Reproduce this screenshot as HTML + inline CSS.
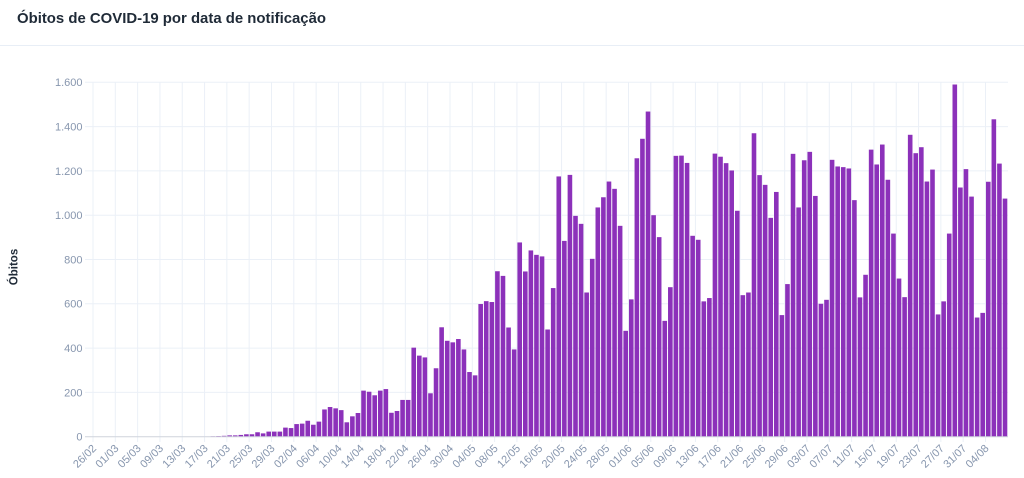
<!DOCTYPE html>
<html>
<head>
<meta charset="utf-8">
<style>
html,body{margin:0;padding:0;background:#fff;overflow:hidden;}
svg{display:block;font-family:"Liberation Sans",Arial,sans-serif;}
</style>
</head>
<body>
<svg width="1024" height="478" viewBox="0 0 1024 478" xmlns="http://www.w3.org/2000/svg">
<rect x="0" y="0" width="1024" height="478" fill="#fff"/>
<text x="17" y="23" font-size="15" font-weight="bold" fill="#1f2a37" textLength="309" lengthAdjust="spacingAndGlyphs">Óbitos de COVID-19 por data de notificação</text>
<line x1="0" y1="45.5" x2="1024" y2="45.5" stroke="#e8eef6" stroke-width="1"/>

<!-- horizontal gridlines -->
<g stroke="#ebf0f7" stroke-width="1">
<line x1="85" x2="1008" y1="392.4" y2="392.4"/>
<line x1="85" x2="1008" y1="348.1" y2="348.1"/>
<line x1="85" x2="1008" y1="303.8" y2="303.8"/>
<line x1="85" x2="1008" y1="259.5" y2="259.5"/>
<line x1="85" x2="1008" y1="215.2" y2="215.2"/>
<line x1="85" x2="1008" y1="170.9" y2="170.9"/>
<line x1="85" x2="1008" y1="126.6" y2="126.6"/>
<line x1="85" x2="1008" y1="82.3" y2="82.3"/>
</g>

<!-- vertical gridlines + ticks -->
<g stroke="#ebf0f7" stroke-width="1">
<line x1="93" x2="93" y1="82.3" y2="442"/>
<line x1="115.31" x2="115.31" y1="82.3" y2="442"/>
<line x1="137.62" x2="137.62" y1="82.3" y2="442"/>
<line x1="159.94" x2="159.94" y1="82.3" y2="442"/>
<line x1="182.25" x2="182.25" y1="82.3" y2="442"/>
<line x1="204.56" x2="204.56" y1="82.3" y2="442"/>
<line x1="226.87" x2="226.87" y1="82.3" y2="442"/>
<line x1="249.18" x2="249.18" y1="82.3" y2="442"/>
<line x1="271.5" x2="271.5" y1="82.3" y2="442"/>
<line x1="293.81" x2="293.81" y1="82.3" y2="442"/>
<line x1="316.12" x2="316.12" y1="82.3" y2="442"/>
<line x1="338.43" x2="338.43" y1="82.3" y2="442"/>
<line x1="360.74" x2="360.74" y1="82.3" y2="442"/>
<line x1="383.06" x2="383.06" y1="82.3" y2="442"/>
<line x1="405.37" x2="405.37" y1="82.3" y2="442"/>
<line x1="427.68" x2="427.68" y1="82.3" y2="442"/>
<line x1="449.99" x2="449.99" y1="82.3" y2="442"/>
<line x1="472.3" x2="472.3" y1="82.3" y2="442"/>
<line x1="494.62" x2="494.62" y1="82.3" y2="442"/>
<line x1="516.93" x2="516.93" y1="82.3" y2="442"/>
<line x1="539.24" x2="539.24" y1="82.3" y2="442"/>
<line x1="561.55" x2="561.55" y1="82.3" y2="442"/>
<line x1="583.86" x2="583.86" y1="82.3" y2="442"/>
<line x1="606.18" x2="606.18" y1="82.3" y2="442"/>
<line x1="628.49" x2="628.49" y1="82.3" y2="442"/>
<line x1="650.8" x2="650.8" y1="82.3" y2="442"/>
<line x1="673.11" x2="673.11" y1="82.3" y2="442"/>
<line x1="695.42" x2="695.42" y1="82.3" y2="442"/>
<line x1="717.74" x2="717.74" y1="82.3" y2="442"/>
<line x1="740.05" x2="740.05" y1="82.3" y2="442"/>
<line x1="762.36" x2="762.36" y1="82.3" y2="442"/>
<line x1="784.67" x2="784.67" y1="82.3" y2="442"/>
<line x1="806.98" x2="806.98" y1="82.3" y2="442"/>
<line x1="829.3" x2="829.3" y1="82.3" y2="442"/>
<line x1="851.61" x2="851.61" y1="82.3" y2="442"/>
<line x1="873.92" x2="873.92" y1="82.3" y2="442"/>
<line x1="896.23" x2="896.23" y1="82.3" y2="442"/>
<line x1="918.54" x2="918.54" y1="82.3" y2="442"/>
<line x1="940.86" x2="940.86" y1="82.3" y2="442"/>
<line x1="963.17" x2="963.17" y1="82.3" y2="442"/>
<line x1="985.48" x2="985.48" y1="82.3" y2="442"/>
</g>

<!-- bars -->
<g transform="translate(93,436.7) scale(5.578,-0.2215)" fill="#8c31ba">
<rect x="19.088" y="0" width="0.825" height="1"/>
<rect x="20.088" y="0" width="0.825" height="1"/>
<rect x="21.088" y="0" width="0.825" height="2"/>
<rect x="22.088" y="0" width="0.825" height="3"/>
<rect x="23.088" y="0" width="0.825" height="4"/>
<rect x="24.088" y="0" width="0.825" height="6"/>
<rect x="25.088" y="0" width="0.825" height="6"/>
<rect x="26.088" y="0" width="0.825" height="8"/>
<rect x="27.088" y="0" width="0.825" height="11"/>
<rect x="28.088" y="0" width="0.825" height="11"/>
<rect x="29.088" y="0" width="0.825" height="20"/>
<rect x="30.088" y="0" width="0.825" height="15"/>
<rect x="31.088" y="0" width="0.825" height="23"/>
<rect x="32.088" y="0" width="0.825" height="23"/>
<rect x="33.088" y="0" width="0.825" height="23"/>
<rect x="34.088" y="0" width="0.825" height="41"/>
<rect x="35.088" y="0" width="0.825" height="39"/>
<rect x="36.088" y="0" width="0.825" height="57"/>
<rect x="37.088" y="0" width="0.825" height="59"/>
<rect x="38.088" y="0" width="0.825" height="72"/>
<rect x="39.088" y="0" width="0.825" height="54"/>
<rect x="40.088" y="0" width="0.825" height="68"/>
<rect x="41.088" y="0" width="0.825" height="123"/>
<rect x="42.088" y="0" width="0.825" height="134"/>
<rect x="43.088" y="0" width="0.825" height="128"/>
<rect x="44.088" y="0" width="0.825" height="120"/>
<rect x="45.088" y="0" width="0.825" height="65"/>
<rect x="46.088" y="0" width="0.825" height="92"/>
<rect x="47.088" y="0" width="0.825" height="107"/>
<rect x="48.088" y="0" width="0.825" height="208"/>
<rect x="49.088" y="0" width="0.825" height="203"/>
<rect x="50.088" y="0" width="0.825" height="187"/>
<rect x="51.088" y="0" width="0.825" height="208"/>
<rect x="52.088" y="0" width="0.825" height="215"/>
<rect x="53.088" y="0" width="0.825" height="108"/>
<rect x="54.088" y="0" width="0.825" height="116"/>
<rect x="55.088" y="0" width="0.825" height="166"/>
<rect x="56.088" y="0" width="0.825" height="166"/>
<rect x="57.088" y="0" width="0.825" height="402"/>
<rect x="58.088" y="0" width="0.825" height="366"/>
<rect x="59.088" y="0" width="0.825" height="358"/>
<rect x="60.088" y="0" width="0.825" height="196"/>
<rect x="61.088" y="0" width="0.825" height="309"/>
<rect x="62.088" y="0" width="0.825" height="494"/>
<rect x="63.088" y="0" width="0.825" height="433"/>
<rect x="64.088" y="0" width="0.825" height="426"/>
<rect x="65.088" y="0" width="0.825" height="441"/>
<rect x="66.088" y="0" width="0.825" height="394"/>
<rect x="67.088" y="0" width="0.825" height="292"/>
<rect x="68.088" y="0" width="0.825" height="277"/>
<rect x="69.088" y="0" width="0.825" height="599"/>
<rect x="70.088" y="0" width="0.825" height="612"/>
<rect x="71.088" y="0" width="0.825" height="608"/>
<rect x="72.088" y="0" width="0.825" height="747"/>
<rect x="73.088" y="0" width="0.825" height="726"/>
<rect x="74.088" y="0" width="0.825" height="493"/>
<rect x="75.088" y="0" width="0.825" height="394"/>
<rect x="76.088" y="0" width="0.825" height="877"/>
<rect x="77.088" y="0" width="0.825" height="746"/>
<rect x="78.088" y="0" width="0.825" height="841"/>
<rect x="79.088" y="0" width="0.825" height="821"/>
<rect x="80.088" y="0" width="0.825" height="814"/>
<rect x="81.088" y="0" width="0.825" height="484"/>
<rect x="82.088" y="0" width="0.825" height="671"/>
<rect x="83.088" y="0" width="0.825" height="1175"/>
<rect x="84.088" y="0" width="0.825" height="884"/>
<rect x="85.088" y="0" width="0.825" height="1182"/>
<rect x="86.088" y="0" width="0.825" height="997"/>
<rect x="87.088" y="0" width="0.825" height="961"/>
<rect x="88.088" y="0" width="0.825" height="651"/>
<rect x="89.088" y="0" width="0.825" height="803"/>
<rect x="90.088" y="0" width="0.825" height="1035"/>
<rect x="91.088" y="0" width="0.825" height="1081"/>
<rect x="92.088" y="0" width="0.825" height="1152"/>
<rect x="93.088" y="0" width="0.825" height="1119"/>
<rect x="94.088" y="0" width="0.825" height="952"/>
<rect x="95.088" y="0" width="0.825" height="478"/>
<rect x="96.088" y="0" width="0.825" height="620"/>
<rect x="97.088" y="0" width="0.825" height="1257"/>
<rect x="98.088" y="0" width="0.825" height="1345"/>
<rect x="99.088" y="0" width="0.825" height="1468"/>
<rect x="100.088" y="0" width="0.825" height="1000"/>
<rect x="101.088" y="0" width="0.825" height="901"/>
<rect x="102.088" y="0" width="0.825" height="523"/>
<rect x="103.088" y="0" width="0.825" height="675"/>
<rect x="104.088" y="0" width="0.825" height="1268"/>
<rect x="105.088" y="0" width="0.825" height="1269"/>
<rect x="106.088" y="0" width="0.825" height="1236"/>
<rect x="107.088" y="0" width="0.825" height="907"/>
<rect x="108.088" y="0" width="0.825" height="889"/>
<rect x="109.088" y="0" width="0.825" height="611"/>
<rect x="110.088" y="0" width="0.825" height="626"/>
<rect x="111.088" y="0" width="0.825" height="1278"/>
<rect x="112.088" y="0" width="0.825" height="1264"/>
<rect x="113.088" y="0" width="0.825" height="1235"/>
<rect x="114.088" y="0" width="0.825" height="1202"/>
<rect x="115.088" y="0" width="0.825" height="1020"/>
<rect x="116.088" y="0" width="0.825" height="639"/>
<rect x="117.088" y="0" width="0.825" height="651"/>
<rect x="118.088" y="0" width="0.825" height="1370"/>
<rect x="119.088" y="0" width="0.825" height="1181"/>
<rect x="120.088" y="0" width="0.825" height="1137"/>
<rect x="121.088" y="0" width="0.825" height="988"/>
<rect x="122.088" y="0" width="0.825" height="1105"/>
<rect x="123.088" y="0" width="0.825" height="549"/>
<rect x="124.088" y="0" width="0.825" height="689"/>
<rect x="125.088" y="0" width="0.825" height="1277"/>
<rect x="126.088" y="0" width="0.825" height="1035"/>
<rect x="127.088" y="0" width="0.825" height="1248"/>
<rect x="128.088" y="0" width="0.825" height="1286"/>
<rect x="129.088" y="0" width="0.825" height="1087"/>
<rect x="130.088" y="0" width="0.825" height="600"/>
<rect x="131.088" y="0" width="0.825" height="618"/>
<rect x="132.088" y="0" width="0.825" height="1250"/>
<rect x="133.088" y="0" width="0.825" height="1220"/>
<rect x="134.088" y="0" width="0.825" height="1217"/>
<rect x="135.088" y="0" width="0.825" height="1211"/>
<rect x="136.088" y="0" width="0.825" height="1068"/>
<rect x="137.088" y="0" width="0.825" height="629"/>
<rect x="138.088" y="0" width="0.825" height="731"/>
<rect x="139.088" y="0" width="0.825" height="1296"/>
<rect x="140.088" y="0" width="0.825" height="1229"/>
<rect x="141.088" y="0" width="0.825" height="1319"/>
<rect x="142.088" y="0" width="0.825" height="1160"/>
<rect x="143.088" y="0" width="0.825" height="917"/>
<rect x="144.088" y="0" width="0.825" height="714"/>
<rect x="145.088" y="0" width="0.825" height="630"/>
<rect x="146.088" y="0" width="0.825" height="1363"/>
<rect x="147.088" y="0" width="0.825" height="1280"/>
<rect x="148.088" y="0" width="0.825" height="1307"/>
<rect x="149.088" y="0" width="0.825" height="1152"/>
<rect x="150.088" y="0" width="0.825" height="1206"/>
<rect x="151.088" y="0" width="0.825" height="552"/>
<rect x="152.088" y="0" width="0.825" height="611"/>
<rect x="153.088" y="0" width="0.825" height="917"/>
<rect x="154.088" y="0" width="0.825" height="1590"/>
<rect x="155.088" y="0" width="0.825" height="1125"/>
<rect x="156.088" y="0" width="0.825" height="1208"/>
<rect x="157.088" y="0" width="0.825" height="1084"/>
<rect x="158.088" y="0" width="0.825" height="538"/>
<rect x="159.088" y="0" width="0.825" height="559"/>
<rect x="160.088" y="0" width="0.825" height="1151"/>
<rect x="161.088" y="0" width="0.825" height="1433"/>
<rect x="162.088" y="0" width="0.825" height="1233"/>
<rect x="163.088" y="0" width="0.825" height="1075"/>
</g>

<!-- zero line -->
<line x1="85" x2="1008" y1="436.7" y2="436.7" stroke="#cfd4dc" stroke-width="1"/>

<!-- y tick labels -->
<g font-size="11" fill="#8796ae" text-anchor="end">
<text x="82.5" y="440.6">0</text>
<text x="82.5" y="396.3">200</text>
<text x="82.5" y="352">400</text>
<text x="82.5" y="307.7">600</text>
<text x="82.5" y="263.4">800</text>
<text x="82.5" y="219.1">1.000</text>
<text x="82.5" y="174.8">1.200</text>
<text x="82.5" y="130.5">1.400</text>
<text x="82.5" y="86.2">1.600</text>
</g>

<!-- y axis title -->
<text transform="translate(17.5,267) rotate(-90)" text-anchor="middle" font-size="11.5" font-weight="bold" fill="#1f2a37">Óbitos</text>

<!-- x tick labels -->
<g font-size="11" fill="#8796ae" text-anchor="end">
<text transform="translate(97,449) rotate(-45)">26/02</text>
<text transform="translate(119.31,449) rotate(-45)">01/03</text>
<text transform="translate(141.62,449) rotate(-45)">05/03</text>
<text transform="translate(163.94,449) rotate(-45)">09/03</text>
<text transform="translate(186.25,449) rotate(-45)">13/03</text>
<text transform="translate(208.56,449) rotate(-45)">17/03</text>
<text transform="translate(230.87,449) rotate(-45)">21/03</text>
<text transform="translate(253.18,449) rotate(-45)">25/03</text>
<text transform="translate(275.5,449) rotate(-45)">29/03</text>
<text transform="translate(297.81,449) rotate(-45)">02/04</text>
<text transform="translate(320.12,449) rotate(-45)">06/04</text>
<text transform="translate(342.43,449) rotate(-45)">10/04</text>
<text transform="translate(364.74,449) rotate(-45)">14/04</text>
<text transform="translate(387.06,449) rotate(-45)">18/04</text>
<text transform="translate(409.37,449) rotate(-45)">22/04</text>
<text transform="translate(431.68,449) rotate(-45)">26/04</text>
<text transform="translate(453.99,449) rotate(-45)">30/04</text>
<text transform="translate(476.3,449) rotate(-45)">04/05</text>
<text transform="translate(498.62,449) rotate(-45)">08/05</text>
<text transform="translate(520.93,449) rotate(-45)">12/05</text>
<text transform="translate(543.24,449) rotate(-45)">16/05</text>
<text transform="translate(565.55,449) rotate(-45)">20/05</text>
<text transform="translate(587.86,449) rotate(-45)">24/05</text>
<text transform="translate(610.18,449) rotate(-45)">28/05</text>
<text transform="translate(632.49,449) rotate(-45)">01/06</text>
<text transform="translate(654.8,449) rotate(-45)">05/06</text>
<text transform="translate(677.11,449) rotate(-45)">09/06</text>
<text transform="translate(699.42,449) rotate(-45)">13/06</text>
<text transform="translate(721.74,449) rotate(-45)">17/06</text>
<text transform="translate(744.05,449) rotate(-45)">21/06</text>
<text transform="translate(766.36,449) rotate(-45)">25/06</text>
<text transform="translate(788.67,449) rotate(-45)">29/06</text>
<text transform="translate(810.98,449) rotate(-45)">03/07</text>
<text transform="translate(833.3,449) rotate(-45)">07/07</text>
<text transform="translate(855.61,449) rotate(-45)">11/07</text>
<text transform="translate(877.92,449) rotate(-45)">15/07</text>
<text transform="translate(900.23,449) rotate(-45)">19/07</text>
<text transform="translate(922.54,449) rotate(-45)">23/07</text>
<text transform="translate(944.86,449) rotate(-45)">27/07</text>
<text transform="translate(967.17,449) rotate(-45)">31/07</text>
<text transform="translate(989.48,449) rotate(-45)">04/08</text>
</g>
</svg>
</body>
</html>
